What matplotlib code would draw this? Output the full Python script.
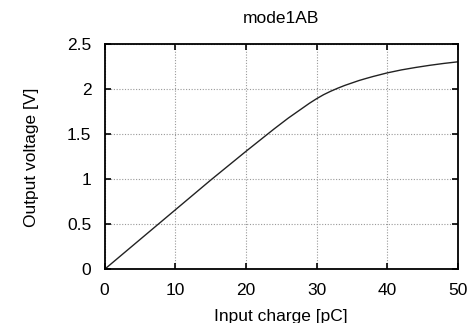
import matplotlib
matplotlib.use("Agg")
import matplotlib.pyplot as plt
import numpy as np

charge = [0, 5, 10, 15, 20, 24, 26, 27, 28, 29, 30, 31, 32, 33, 34, 35, 36, 37, 38, 39, 40, 42, 44, 46, 48, 50]
voltage = [0, 0.33, 0.66, 0.99, 1.31, 1.56, 1.68, 1.735, 1.79, 1.845, 1.895, 1.94, 1.978, 2.012, 2.043, 2.07, 2.097, 2.12, 2.142, 2.162, 2.182, 2.215, 2.242, 2.266, 2.287, 2.305]
xticks = [0, 10, 20, 30, 40, 50]
yticks = [0, 0.5, 1, 1.5, 2, 2.5]
ytick_labels = ["0", "0.5", "1", "1.5", "2", "2.5"]

plt.rcParams['font.family'] = ['Liberation Sans', 'DejaVu Sans']
fig = plt.figure(figsize=(4.75, 3.23), dpi=100)
ax = fig.add_axes([0.22, 0.166, 0.744, 0.697])
ax.plot(charge, voltage, color='#222222', linewidth=1.0)
ax.set_xlim(0, 50)
ax.set_ylim(0, 2.5)
ax.set_xticks(xticks)
ax.set_yticks(yticks)
ax.set_yticklabels(ytick_labels)
ax.grid(True, linestyle=(0, (1, 1.5)), color='#999999', linewidth=0.8)
ax.tick_params(direction='in', length=4.5, width=1.2, top=True, right=True,
               labelsize=12.5, pad=9.5)
for s in ax.spines.values():
    s.set_linewidth(1.3)
ax.set_title("mode1AB", fontsize=12.5, pad=15)
ax.set_xlabel("Input charge [pC]", fontsize=12.5, labelpad=8.5)
ax.set_ylabel("Output voltage [V]", fontsize=12.5, labelpad=20)
fig.savefig("out.png", dpi=100)
